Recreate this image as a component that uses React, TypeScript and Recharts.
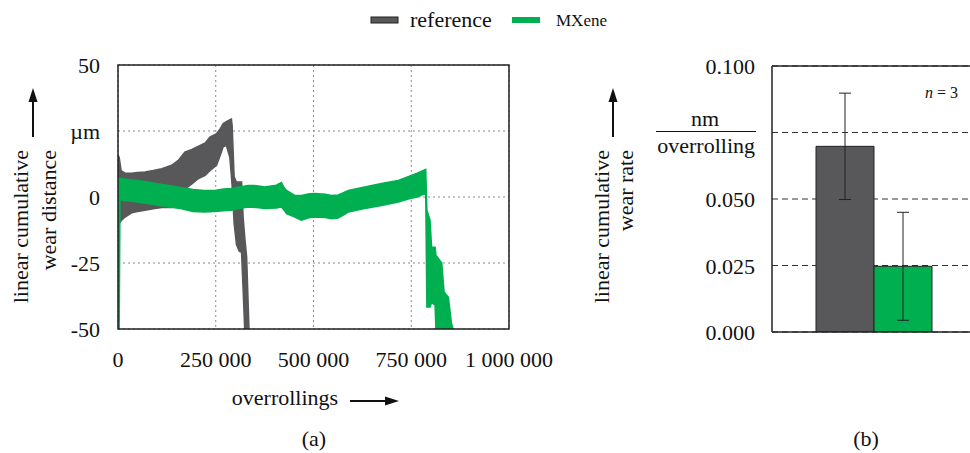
import React from 'react';
import {
  ComposedChart,
  Area,
  XAxis,
  YAxis,
  CartesianGrid,
  ReferenceArea,
  ReferenceLine,
  BarChart,
  Bar,
  ErrorBar,
} from 'recharts';

// ---------- (a) linear cumulative wear distance ----------
// overrollings in thousands
const refOverrollingsK = [0, 3, 8, 18, 35, 50, 69, 90, 112, 137, 155, 171, 189, 206, 223, 235, 252, 262, 269, 277, 286, 290, 292, 297, 303, 310, 316, 320, 324, 329, 335];
const refLow = [-9, -10, -9, -7.6, -6, -5.5, -5, -4.5, -4, -4, -3, 3, 5, 7, 8.2, 10, 12, 16, 19, 19.6, 15, 8, 4, -10, -18, -20.5, -21, -35, -50, -50, -50];
const refHigh = [16, 15, 10, 9, 9, 9.3, 9.5, 10, 10.7, 12, 14, 17, 18, 19.3, 20.5, 22.7, 24, 26, 27.8, 28.5, 29.3, 29.5, 27, 7.6, 5.7, 5.7, 5.7, -7.6, -15, -22.7, -50];

const mxOverrollingsK = [0, 3, 5, 15, 30, 64, 100, 130, 160, 192, 220, 247, 270, 290, 310, 333, 355, 375, 405, 418, 425, 431, 452, 469, 490, 503, 530, 546, 563, 575, 589, 631, 674, 717, 747, 765, 781, 787, 790, 798, 802, 811, 813, 828, 834, 845, 853, 857];
const mxLow = [-50, -50, -1, -1.3, -1.5, -2.2, -3, -3.8, -4.4, -5.5, -5.7, -5.5, -5.2, -5, -4.4, -3.8, -4, -4.4, -4.2, -3.8, -5, -6.3, -7.6, -8.8, -7.8, -7.6, -7.8, -8.2, -8, -7, -5.7, -4.4, -3.2, -1.9, -0.6, 0, 1, 1.3, -41.7, -41.7, -40, -41, -50, -50, -50, -50, -50, -50];
const mxHigh = [6, 7, 7, 6.8, 6.5, 6, 5, 4.4, 3.6, 2.8, 2.5, 2.5, 3, 3.2, 3.8, 4.4, 4.3, 3.8, 4.5, 5.5, 3.5, 2.5, 0.6, 0.6, 1.2, 1.3, 1, 0.6, 0.8, 1.5, 2.5, 3.8, 5.1, 6.3, 8, 9, 10.1, 10.5, -5, -8.8, -19, -19, -22, -25, -36, -38, -48, -50];

const xTicksK = [0, 250, 500, 750, 1000];
const xTickLabels = ['0', '250 000', '500 000', '750 000', '1 000 000'];
const yTicksA = [-50, -25, 0, 25, 50];
const yTickLabelsA = ['-50', '-25', '0', 'µm', '50'];

// ---------- (b) linear cumulative wear rate ----------
const rateCategories = ['wear rate'];
const rateReference = [0.0698];
const rateMXene = [0.0247];
const errReference = [0.02];
const errMXene = [0.0203];
const yTicksB = [0, 0.025, 0.05, 0.075, 0.1];
const yTickLabelsB = ['0.000', '0.025', '0.050', '', '0.100'];

const seriesNames = ['reference', 'MXene'];
const GREY = '#58585a';
const GREEN = '#00b050';
const INK = '#111';
const FONT = '"Liberation Serif", "Times New Roman", serif';

const refData = refOverrollingsK.map((x, i) => ({ x, band: [refLow[i], refHigh[i]] }));
const mxData = mxOverrollingsK.map((x, i) => ({ x, band: [mxLow[i], mxHigh[i]] }));
const rateData = rateCategories.map((name, i) => ({
  name,
  reference: rateReference[i],
  mxene: rateMXene[i],
  refErr: errReference[i],
  mxErr: errMXene[i],
}));

const LeftYTick = (props: any) => {
  const { x, y, payload } = props;
  const idx = yTicksA.indexOf(payload.value);
  return (
    <text x={x} y={y} dy={8} textAnchor="end" fontSize={22} fontFamily={FONT} fill={INK}>
      {yTickLabelsA[idx]}
    </text>
  );
};

const BottomXTick = (props: any) => {
  const { x, y, payload } = props;
  const idx = xTicksK.indexOf(payload.value);
  return (
    <text x={x} y={y + 38} textAnchor="middle" fontSize={22} fontFamily={FONT} fill={INK}>
      {xTickLabels[idx]}
    </text>
  );
};

const RightYTick = (props: any) => {
  const { x, y, payload } = props;
  const idx = yTicksB.indexOf(payload.value);
  if (payload.value === 0.075) {
    return (
      <g>
        <text x={x - 50} y={y - 7} textAnchor="middle" fontSize={22} fontFamily={FONT} fill={INK}>
          nm
        </text>
        <line x1={x - 99} x2={x + 1} y1={y - 1} y2={y - 1} stroke={INK} strokeWidth={1} />
        <text x={x} y={y + 20} textAnchor="end" fontSize={22} fontFamily={FONT} fill={INK}>
          overrolling
        </text>
      </g>
    );
  }
  return (
    <text x={x} y={y} dy={8} textAnchor="end" fontSize={22} fontFamily={FONT} fill={INK}>
      {yTickLabelsB[idx]}
    </text>
  );
};

const Overlay = () => (
  <svg
    width={970}
    height={453}
    style={{ position: 'absolute', left: 0, top: 0, pointerEvents: 'none' }}
    fontFamily={FONT}
  >
    {/* legend */}
    <rect x={371} y={17} width={27} height={6} fill={GREY} stroke="#222" strokeWidth={1} />
    <text x={410} y={27} fontSize={22} fill={INK}>{seriesNames[0]}</text>
    <rect x={512} y={17} width={28} height={6} fill={GREEN} />
    <text x={556} y={26} fontSize={17} fill={INK}>{seriesNames[1]}</text>

    {/* left y-axis title */}
    <line x1={33} x2={33} y1={137} y2={99} stroke={INK} strokeWidth={2} />
    <polygon points="33,88 28.5,102 37.5,102" fill={INK} />
    <text x={20} y={150} transform="rotate(-90 20 150)" dy={7.7} textAnchor="end" fontSize={22} fill={INK}>
      linear cumulative
    </text>
    <text x={48} y={150} transform="rotate(-90 48 150)" dy={7.7} textAnchor="end" fontSize={22} fill={INK}>
      wear distance
    </text>

    {/* x-axis title */}
    <text x={285} y={405} textAnchor="middle" fontSize={22} fill={INK}>overrollings</text>
    <line x1={350} x2={388} y1={401} y2={401} stroke={INK} strokeWidth={2} />
    <polygon points="399,401 385,396.5 385,405.5" fill={INK} />

    <text x={314} y={446} textAnchor="middle" fontSize={22} fill={INK}>(a)</text>
    <text x={866} y={446} textAnchor="middle" fontSize={22} fill={INK}>(b)</text>

    {/* right y-axis title */}
    <line x1={613} x2={613} y1={137} y2={99} stroke={INK} strokeWidth={2} />
    <polygon points="613,88 608.5,102 617.5,102" fill={INK} />
    <text x={601} y={150} transform="rotate(-90 601 150)" dy={7.7} textAnchor="end" fontSize={22} fill={INK}>
      linear cumulative
    </text>
    <text x={625} y={150} transform="rotate(-90 625 150)" dy={7.7} textAnchor="end" fontSize={22} fill={INK}>
      wear rate
    </text>

    <text x={925} y={98} fontSize={16} fill={INK}>
      <tspan fontStyle="italic">n</tspan> = 3
    </text>
  </svg>
);

export default function App() {
  return (
    <div
      style={{
        position: 'fixed',
        left: 0,
        top: 0,
        width: 970,
        height: 453,
        overflow: 'hidden',
        background: '#fff',
        fontFamily: FONT,
      }}
    >
      <div style={{ position: 'absolute', left: 0, top: 0 }}>
        <ComposedChart width={600} height={453} margin={{ top: 65, right: 91, bottom: 94, left: 58 }}>
          <CartesianGrid stroke="#8a8a8a" strokeDasharray="2 3" strokeWidth={1} />
          <XAxis
            dataKey="x"
            type="number"
            domain={[0, 1000]}
            ticks={xTicksK}
            allowDataOverflow
            height={30}
            axisLine={false}
            tickLine={false}
            tickSize={0}
            tickMargin={0}
            tick={<BottomXTick />}
            interval={0}
          />
          <YAxis
            type="number"
            domain={[-50, 50]}
            ticks={yTicksA}
            allowDataOverflow
            width={60}
            axisLine={false}
            tickLine={false}
            tickSize={0}
            tickMargin={18}
            tick={<LeftYTick />}
            interval={0}
          />
          <Area
            data={refData}
            dataKey="band"
            type="linear"
            stroke={GREY}
            strokeWidth={1.5}
            fill={GREY}
            fillOpacity={1}
            dot={false}
            activeDot={false}
            isAnimationActive={false}
          />
          <Area
            data={mxData}
            dataKey="band"
            type="linear"
            stroke={GREEN}
            strokeWidth={1.5}
            fill={GREEN}
            fillOpacity={1}
            dot={false}
            activeDot={false}
            isAnimationActive={false}
          />
          <ReferenceArea
            x1={0}
            x2={1000}
            y1={-50}
            y2={50}
            fill="none"
            fillOpacity={0}
            stroke="#222"
            strokeWidth={1.5}
            ifOverflow="visible"
          />
        </ComposedChart>
      </div>

      <div style={{ position: 'absolute', left: 600, top: 0 }}>
        <BarChart
          width={400}
          height={453}
          data={rateData}
          margin={{ top: 66, right: 24, bottom: 119, left: 112 }}
          barGap={0}
        >
          <CartesianGrid vertical={false} stroke="#333" strokeDasharray="6 4" strokeWidth={1} />
          <XAxis
            dataKey="name"
            height={2}
            tick={false}
            tickLine={false}
            axisLine={{ stroke: '#222', strokeWidth: 1.5 }}
          />
          <YAxis
            type="number"
            domain={[0, 0.1]}
            ticks={yTicksB}
            allowDataOverflow
            width={60}
            axisLine={{ stroke: '#222', strokeWidth: 1.5 }}
            tickLine={false}
            tickSize={0}
            tickMargin={17}
            tick={<RightYTick />}
            interval={0}
          />
          <ReferenceLine y={0.1} stroke="#222" strokeWidth={1.5} ifOverflow="visible" />
          <Bar dataKey="reference" barSize={58} fill={GREY} stroke="#222" strokeWidth={1} isAnimationActive={false}>
            <ErrorBar dataKey="refErr" width={6} stroke="#222" strokeWidth={1} direction="y" />
          </Bar>
          <Bar dataKey="mxene" barSize={58} fill={GREEN} stroke="#222" strokeWidth={1} isAnimationActive={false}>
            <ErrorBar dataKey="mxErr" width={6} stroke="#222" strokeWidth={1} direction="y" />
          </Bar>
        </BarChart>
      </div>

      <Overlay />
    </div>
  );
}
